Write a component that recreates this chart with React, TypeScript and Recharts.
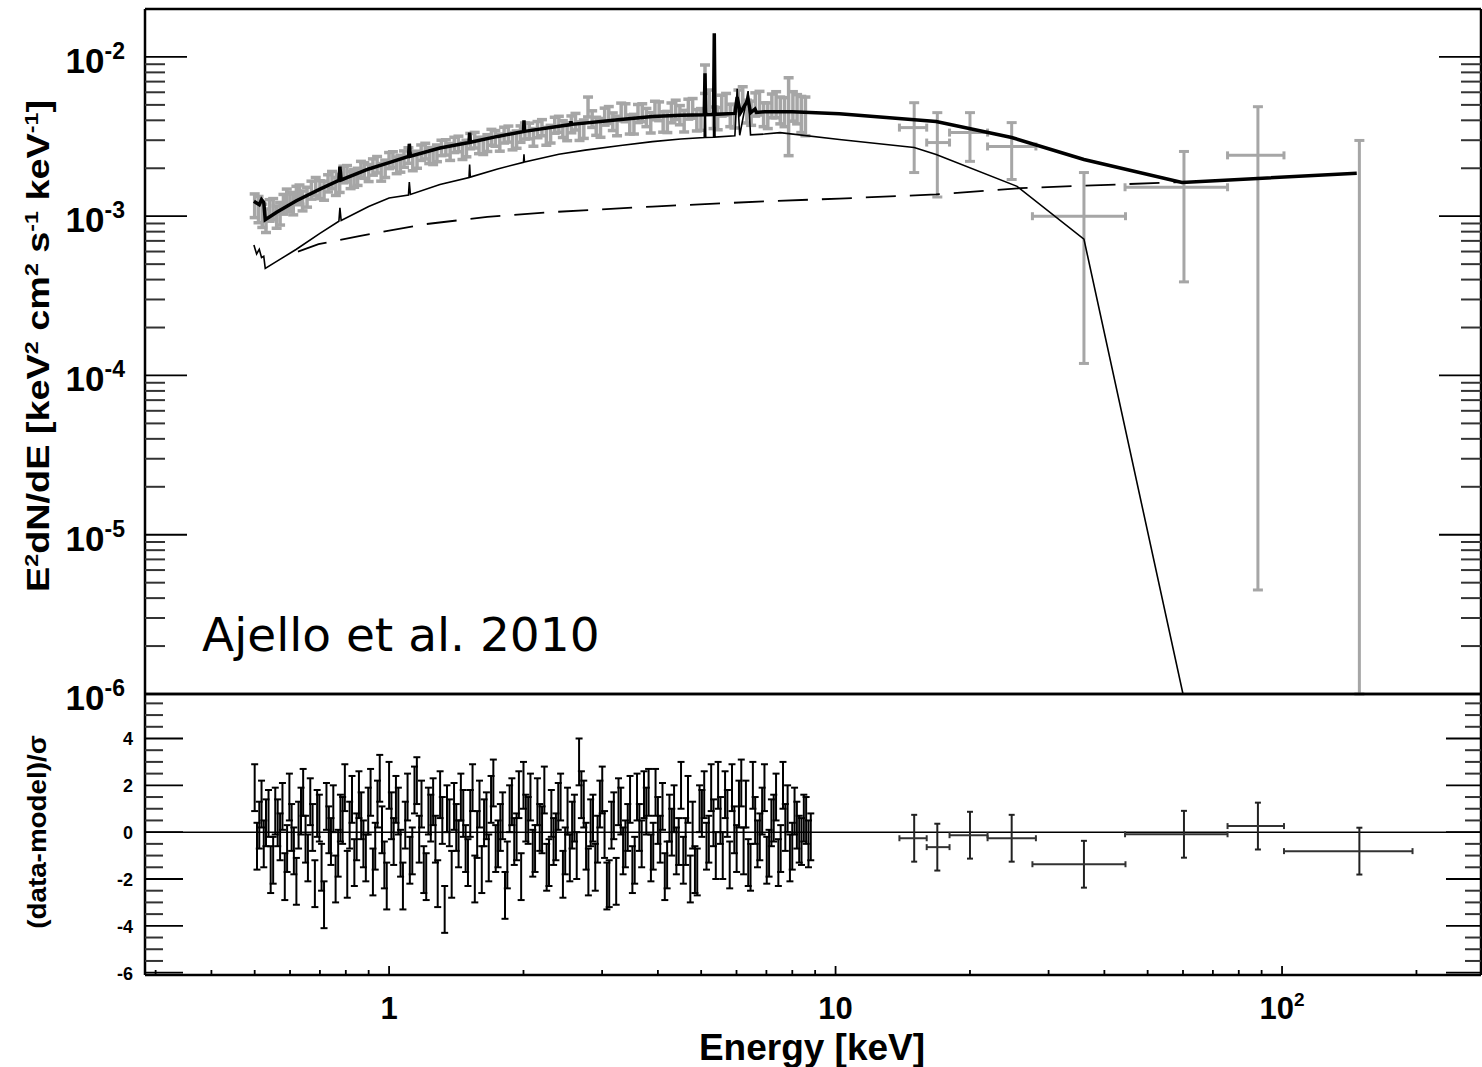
import React from 'react'
import { ComposedChart, Scatter, Line, XAxis, YAxis, ErrorBar, ReferenceLine } from 'recharts'

const FONT = '"Liberation Sans", Arial, Helvetica, sans-serif'
const GREY = '#a6a6a6'
const UNIT = 1e-3 // flux arrays below are in units of 1e-3 keV^2 cm^-2 s^-1 keV^-1

// ---- axes ----
const energyDomain = [0.284, 279]
const energyMajorTicks = [1, 10, 100]
const energyLabelBase = ['1', '10', '10']
const energyLabelSup = ['', '', '2']
const energyMinorTicks = [0.3, 0.4, 0.5, 0.6, 0.7, 0.8, 0.9, 2, 3, 4, 5, 6, 7, 8, 9, 20, 30, 40, 50, 60, 70, 80, 90, 200]

const fluxDomain = [1e-6, 2e-2]
const fluxMajorTicks = [1e-6, 1e-5, 1e-4, 1e-3, 1e-2]
const fluxExponents = ['-6', '-5', '-4', '-3', '-2']
const fluxMinorTicks = [
  2e-6, 3e-6, 4e-6, 5e-6, 6e-6, 7e-6, 8e-6, 9e-6,
  2e-5, 3e-5, 4e-5, 5e-5, 6e-5, 7e-5, 8e-5, 9e-5,
  2e-4, 3e-4, 4e-4, 5e-4, 6e-4, 7e-4, 8e-4, 9e-4,
  2e-3, 3e-3, 4e-3, 5e-3, 6e-3, 7e-3, 8e-3, 9e-3,
]

const residualDomain = [-6.1, 5.9]
const residualMajorTicks = [-6, -4, -2, 0, 2, 4]
const residualMajorLabels = ['-6', '-4', '-2', '0', '2', '4']
const residualMinorTicks = [-5.5, -5, -4.5, -3.5, -3, -2.5, -1.5, -1, -0.5, 0.5, 1, 1.5, 2.5, 3, 3.5, 4.5, 5, 5.5]

// ---- XMM spectrum (grey points, top panel) ----
const xmmEnergy = [
  0.5, 0.52, 0.54, 0.56, 0.58, 0.6, 0.62, 0.64, 0.67, 0.7,
  0.73, 0.76, 0.79, 0.82, 0.85, 0.88, 0.92, 0.96, 1.0, 1.04,
  1.08, 1.13, 1.18, 1.23, 1.28, 1.34, 1.4, 1.46, 1.52, 1.59,
  1.66, 1.73, 1.81, 1.89, 1.97, 2.06, 2.15, 2.25, 2.35, 2.45,
  2.56, 2.67, 2.79, 2.91, 3.04, 3.17, 3.31, 3.46, 3.61, 3.77,
  3.94, 4.11, 4.29, 4.48, 4.68, 4.89, 5.1, 5.33, 5.56, 5.81,
  6.06, 6.33, 6.61, 6.9, 7.2, 7.52, 7.85, 8.2, 8.56,
]
const xmmFlux = [
  1.18, 1.02, 1.1, 1.0, 1.2, 1.24, 1.36, 1.26, 1.47, 1.48,
  1.62, 1.55, 1.84, 1.7, 1.78, 1.95, 2.05, 1.9, 2.25, 2.1,
  2.3, 2.2, 2.52, 2.42, 2.5, 2.72, 2.82, 2.58, 2.98, 2.8,
  2.9, 3.1, 3.25, 2.98, 3.3, 3.45, 3.52, 3.2, 3.75, 3.55,
  3.8, 3.45, 4.9, 3.7, 4.25, 3.95, 4.55, 3.8, 4.45, 4.2,
  4.65, 3.95, 4.5, 4.35, 4.75, 4.05, 7.4, 4.2, 5.0, 4.35,
  5.4, 4.6, 5.1, 4.4, 5.0, 4.7, 4.9, 4.8, 4.4,
]
const xmmErr = [
  0.2, 0.17, 0.17, 0.16, 0.17, 0.17, 0.18, 0.18, 0.19, 0.19,
  0.2, 0.2, 0.22, 0.21, 0.22, 0.22, 0.24, 0.24, 0.26, 0.25,
  0.27, 0.27, 0.28, 0.28, 0.3, 0.3, 0.31, 0.31, 0.33, 0.33,
  0.35, 0.35, 0.37, 0.37, 0.39, 0.39, 0.41, 0.41, 0.43, 0.43,
  0.46, 0.46, 0.7, 0.48, 0.52, 0.5, 0.58, 0.52, 0.58, 0.55,
  0.62, 0.58, 0.64, 0.6, 0.68, 0.62, 1.5, 0.65, 0.75, 0.7,
  0.8, 0.75, 0.85, 0.75, 0.85, 0.9, 2.5, 1.0, 1.2,
]
// second interleaved set of XMM bins
const xmmEnergyB = [
  0.51, 0.53, 0.55, 0.57, 0.59, 0.61, 0.63, 0.655, 0.685, 0.715,
  0.745, 0.775, 0.805, 0.835, 0.865, 0.9, 0.94, 0.98, 1.02, 1.06,
  1.105, 1.155, 1.205, 1.255, 1.31, 1.37, 1.43, 1.49, 1.555, 1.625,
  1.695, 1.77, 1.85, 1.93, 2.015, 2.105, 2.2, 2.3, 2.4, 2.505,
  2.615, 2.73, 2.85, 2.975, 3.105, 3.24, 3.385, 3.535, 3.69, 3.855,
  4.025, 4.2, 4.385, 4.58, 4.785, 4.995, 5.215, 5.445, 5.685, 5.935,
  6.195, 6.47, 6.755, 7.05, 7.36, 7.685, 8.025, 8.38,
]
const xmmFluxB = [
  1.12, 0.95, 1.12, 1.05, 1.3, 1.2, 1.38, 1.33, 1.55, 1.46,
  1.7, 1.62, 1.86, 1.74, 1.98, 1.88, 2.12, 2.0, 2.28, 2.15,
  2.42, 2.28, 2.58, 2.4, 2.7, 2.55, 2.86, 2.68, 3.02, 2.78,
  3.15, 2.92, 3.3, 3.05, 3.45, 3.15, 3.62, 3.3, 3.8, 3.42,
  3.95, 3.55, 4.1, 3.62, 4.35, 3.72, 4.5, 3.82, 4.5, 3.9,
  4.6, 3.95, 4.7, 4.0, 4.8, 4.1, 5.3, 4.15, 5.1, 4.3,
  5.6, 4.5, 5.2, 4.35, 5.1, 4.6, 5.0, 4.5,
]
const xmmErrB = [
  0.21, 0.16, 0.17, 0.17, 0.18, 0.18, 0.19, 0.19, 0.2, 0.2,
  0.21, 0.21, 0.22, 0.22, 0.23, 0.23, 0.25, 0.25, 0.26, 0.26,
  0.27, 0.28, 0.29, 0.29, 0.3, 0.31, 0.32, 0.32, 0.34, 0.34,
  0.36, 0.36, 0.38, 0.38, 0.4, 0.4, 0.42, 0.42, 0.44, 0.44,
  0.47, 0.47, 0.49, 0.49, 0.53, 0.52, 0.58, 0.54, 0.58, 0.57,
  0.62, 0.6, 0.65, 0.62, 0.68, 0.64, 0.9, 0.66, 0.8, 0.72,
  0.9, 0.78, 0.88, 0.8, 0.95, 0.95, 1.05, 1.15,
]

// ---- BAT spectrum (grey crosses, top panel); the last bin only shows its upper bar ----
const batEnergy = [15.0, 16.9, 20.0, 24.8, 36.0, 60.3, 88.3, 149]
const batEnergyLo = [13.9, 16.0, 18.0, 21.9, 27.6, 44.5, 75.5, 101]
const batEnergyHi = [16.0, 18.0, 21.9, 28.1, 44.6, 75.5, 101, 196]
const batFlux = [3.6, 2.9, 3.35, 2.74, 1.0, 1.52, 2.41, 0.001]
const batFluxLo = [1.88, 1.32, 2.21, 1.7, 0.119, 0.387, 0.0045, 0.001]
const batFluxHi = [5.16, 4.47, 4.47, 3.87, 1.88, 2.55, 4.87, 2.99]

// ---- model curves ----
const totalEnergy = [
  0.498, 0.512, 0.518, 0.524, 0.528, 0.56, 0.62, 0.7, 0.772, 0.776, 0.781,
  0.9, 1.0, 1.105, 1.11, 1.116, 1.3, 1.51, 1.515, 1.52, 1.75, 2.0, 2.005, 2.01,
  2.4, 2.55, 2.555, 2.56, 3.3, 3.89, 4.5, 5.08, 5.1, 5.12, 5.33, 5.35, 5.37,
  5.95, 6.02, 6.12, 6.37, 6.45, 6.6, 6.65, 6.93, 8.0, 10.2, 16.8, 24.8, 36.0, 59.7, 147,
]
const totalFlux = [
  1.24, 1.18, 1.27, 1.22, 0.95, 1.06, 1.25, 1.48, 1.68, 2.05, 1.69,
  1.98, 2.17, 2.37, 2.85, 2.38, 2.68, 2.9, 3.35, 2.91, 3.17, 3.4, 4.0, 3.41,
  3.67, 3.76, 3.95, 3.77, 4.05, 4.22, 4.3, 4.34, 7.9, 4.34, 4.35, 14.1, 4.36,
  4.42, 5.6, 4.45, 5.4, 4.46, 4.7, 4.48, 4.53, 4.52, 4.4, 3.93, 3.12, 2.27, 1.63, 1.86,
]
const reflEnergy = [
  0.498, 0.505, 0.512, 0.518, 0.524, 0.528, 0.56, 0.62, 0.7, 0.772, 0.776, 0.781,
  0.9, 1.0, 1.105, 1.11, 1.116, 1.3, 1.51, 1.515, 1.52, 1.75, 2.0, 2.005, 2.01,
  2.4, 2.75, 3.3, 3.89, 4.5, 5.08, 5.1, 5.12, 5.33, 5.35, 5.37, 5.95, 6.02, 6.1,
  6.37, 6.45, 6.93, 7.51, 10.2, 15.0, 16.8, 25.5, 36.0, 60.0,
]
const reflFlux = [
  0.66, 0.58, 0.62, 0.55, 0.56, 0.47, 0.52, 0.62, 0.78, 0.93, 1.13, 0.94,
  1.15, 1.3, 1.36, 1.64, 1.37, 1.58, 1.75, 2.11, 1.76, 1.98, 2.18, 2.45, 2.19,
  2.45, 2.6, 2.78, 2.94, 3.05, 3.12, 7.5, 3.12, 3.13, 13.5, 3.14, 3.2, 6.3, 3.22,
  6.1, 3.24, 3.28, 3.35, 3.03, 2.7, 2.44, 1.54, 0.718, 0.001,
]
const powerEnergy = [0.625, 0.695, 0.857, 1.2, 1.66, 2.3, 3.89, 6.93, 10.2, 16.8, 26.0, 59.7]
const powerFlux = [0.6, 0.667, 0.75, 0.89, 0.99, 1.06, 1.15, 1.24, 1.29, 1.37, 1.5, 1.64]

// ---- residuals ----
const resEnergy = [
  0.5, 0.512, 0.524, 0.537, 0.55, 0.563, 0.577, 0.591, 0.605, 0.62,
  0.635, 0.65, 0.666, 0.682, 0.698, 0.715, 0.733, 0.75, 0.769, 0.787,
  0.806, 0.826, 0.846, 0.866, 0.887, 0.909, 0.931, 0.953, 0.976, 1.0,
  1.024, 1.049, 1.074, 1.1, 1.127, 1.154, 1.182, 1.211, 1.24, 1.27,
  1.301, 1.332, 1.365, 1.398, 1.431, 1.466, 1.502, 1.538, 1.575, 1.613,
  1.652, 1.692, 1.733, 1.775, 1.818, 1.862, 1.907, 1.953, 2.0, 2.049,
  2.098, 2.149, 2.201, 2.254, 2.309, 2.364, 2.422, 2.48, 2.54, 2.601,
  2.664, 2.729, 2.795, 2.862, 2.931, 3.002, 3.075, 3.149, 3.226, 3.304,
  3.383, 3.465, 3.549, 3.635, 3.723, 3.813, 3.905, 4.0, 4.096, 4.195,
  4.297, 4.4, 4.507, 4.616, 4.728, 4.842, 4.959, 5.079, 5.202, 5.328,
  5.457, 5.589, 5.724, 5.862, 6.004, 6.149, 6.298, 6.45, 6.606, 6.766,
  6.93, 7.097, 7.269, 7.445, 7.625, 7.809, 7.998, 8.191, 8.389, 8.592, 8.8,
]
const resValue = [
  1.9, 0.3, -0.5, 0.8, -1.2, 0.4, 1.1, -0.7, 0.2, -2.1,
  0.9, -0.3, 1.3, -2.2, 0.6, -3.1, 0.1, 1.0, -0.9, 0.5,
  -1.8, 1.4, -0.2, 0.7, -1.1, 1.7, -0.6, 2.3, -1.4, 2.0,
  -0.4, 0.9, -2.3, 1.5, -0.8, 2.2, 1.2, -1.9, 0.6, -0.3,
  1.6, -3.3, 0.4, 1.1, -0.5, 0.8, -1.3, 1.9, -0.1, -1.6,
  0.7, 1.4, -0.7, 0.2, -2.7, 1.0, -0.4, 1.6, 2.0, 0.5,
  -0.9, 1.3, 0.1, -1.5, 0.8, -0.2, 1.5, -0.8, -1.1, 0.6,
  3.0, 1.2, -1.7, 0.6, -0.3, 1.8, -2.3, 0.3, -2.1, 0.9,
  -0.5, 1.4, -1.2, 0.2, 1.6, 1.7, -0.6, 0.5, 1.1, -1.4,
  0.0, -0.8, 2.0, -0.4, -2.0, -1.6, 1.0, 1.6, -0.3, 0.4,
  2.0, -1.0, 0.8, 1.9, -0.7, 2.1, 1.2, -1.5, 0.5, -0.2,
  1.9, -0.9, 0.6, -1.3, 2.0, 1.0, -0.6, 0.3, -0.4, 0.5, -0.2,
]
const resEnergyB = [
  0.506, 0.518, 0.53, 0.543, 0.556, 0.57, 0.584, 0.598, 0.612, 0.627,
  0.642, 0.658, 0.674, 0.69, 0.706, 0.724, 0.741, 0.759, 0.778, 0.796,
  0.816, 0.836, 0.856, 0.876, 0.898, 0.92, 0.942, 0.964, 0.988, 1.012,
  1.036, 1.061, 1.087, 1.113, 1.14, 1.168, 1.196, 1.225, 1.255, 1.285,
  1.316, 1.348, 1.381, 1.414, 1.448, 1.484, 1.52, 1.556, 1.594, 1.632,
  1.672, 1.712, 1.754, 1.796, 1.84, 1.884, 1.93, 1.976, 2.024, 2.073,
  2.123, 2.175, 2.227, 2.281, 2.336, 2.393, 2.451, 2.51, 2.57, 2.632,
  2.696, 2.762, 2.828, 2.896, 2.966, 3.038, 3.112, 3.187, 3.265, 3.343,
  3.424, 3.507, 3.592, 3.679, 3.768, 3.859, 3.952, 4.048, 4.145, 4.246,
  4.348, 4.453, 4.561, 4.672, 4.785, 4.9, 5.019, 5.14, 5.265, 5.392,
  5.523, 5.656, 5.793, 5.933, 6.076, 6.223, 6.374, 6.528, 6.686, 6.848,
  7.013, 7.183, 7.357, 7.535, 7.717, 7.903, 8.094, 8.29, 8.49, 8.696,
]
const resValueB = [
  -0.6, 1.2, 0.4, -1.6, 0.9, -0.2, -1.9, 1.5, -0.8, 0.3,
  1.7, -1.1, 0.2, 0.8, -1.5, 1.1, -0.4, -2.0, 0.6, 1.9,
  0.3, -1.3, 1.6, -0.5, 0.9, -1.7, 1.2, 0.1, -2.3, 0.7,
  1.4, -0.9, 0.3, -1.2, 1.8, -0.3, -1.6, 0.9, 1.3, -2.2,
  0.5, 1.0, -1.8, 0.2, 1.5, -0.7, 0.8, -2.0, 1.2, 0.4,
  -1.1, 2.1, -0.5, 0.7, -1.4, 1.3, -0.2, -1.9, 0.6, 1.5,
  -0.7, 0.2, 1.8, -1.3, -0.4, 1.1, -1.8, 0.9, 0.3, -1.0,
  1.6, -0.6, 0.4, -1.5, 1.2, -0.1, -2.2, 0.7, 1.3, -0.8,
  0.2, -1.6, 1.5, -0.5, 0.9, -1.1, 1.7, -0.3, -1.9, 0.6,
  1.0, -0.4, -1.2, 1.4, 0.3, -1.7, 0.8, -0.6, 1.9, -1.0,
  0.5, 1.6, -1.4, 0.1, 1.2, -0.8, -1.3, 2.0, -0.5, 0.9,
  -1.2, 0.4, 1.5, -0.7, 0.2, -1.1, 0.9, -0.3, 0.6, -0.5,
]
const batResidual = [-0.26, -0.64, -0.13, -0.26, -1.37, -0.09, 0.26, -0.81]

// tables for recharts
const xmmTable = [
  ...xmmEnergy.map((e, i) => ({ e, f: xmmFlux[i] * UNIT, err: xmmErr[i] * UNIT })),
  ...xmmEnergyB.map((e, i) => ({ e, f: xmmFluxB[i] * UNIT, err: xmmErrB[i] * UNIT })),
]
const batRows = batEnergy.map((e, i) => ({
  e,
  f: batFlux[i] * UNIT,
  fErr: [(batFlux[i] - batFluxLo[i]) * UNIT, (batFluxHi[i] - batFlux[i]) * UNIT],
  eErr: [e - batEnergyLo[i], batEnergyHi[i] - e],
}))
const batTable = batRows.slice(0, 7)
const batLimitTable = batRows.slice(7)
const totalTable = totalEnergy.map((e, i) => ({ e, f: totalFlux[i] * UNIT }))
const reflTable = reflEnergy.map((e, i) => ({ e, f: reflFlux[i] * UNIT }))
const powerTable = powerEnergy.map((e, i) => ({ e, f: powerFlux[i] * UNIT }))
const resTable = [
  ...resEnergy.map((e, i) => ({ e, r: resValue[i], err: 1 })),
  ...resEnergyB.map((e, i) => ({ e, r: resValueB[i], err: 1 })),
]
const batResTable = batEnergy.map((e, i) => ({
  e,
  r: batResidual[i],
  err: 1,
  eErr: [e - batEnergyLo[i], batEnergyHi[i] - e],
}))

const near = (a: number, b: number) => Math.abs(a - b) <= Math.abs(b) * 1e-6 + 1e-12
const Empty = () => <g />

function EnergyTick({ x, y, payload, kind }: any) {
  const i = energyMajorTicks.findIndex(t => near(payload.value, t))
  const major = i >= 0
  if (kind === 'top') {
    return <line x1={x} x2={x} y1={y} y2={y + (major ? 15 : 8)} stroke="#000" strokeWidth={1.8} />
  }
  if (kind === 'mid') {
    const h = major ? 12 : 7
    return <line x1={x} x2={x} y1={y - h} y2={y + h} stroke="#000" strokeWidth={1.8} />
  }
  return (
    <g>
      <line x1={x} x2={x} y1={y} y2={y - (major ? 9 : 5)} stroke="#000" strokeWidth={1.8} />
      {major && (
        <text x={x} y={y + 44} textAnchor="middle" fontFamily={FONT} fontWeight="bold" fontSize={31} fill="#000">
          {energyLabelBase[i]}
          {energyLabelSup[i] && (
            <tspan fontSize={19} dy={-13}>{energyLabelSup[i]}</tspan>
          )}
        </text>
      )}
    </g>
  )
}

function FluxTick({ x, y, payload, side }: any) {
  const i = fluxMajorTicks.findIndex(t => near(payload.value, t))
  const major = i >= 0
  const len = major ? 42 : 20
  const dir = side === 'left' ? 1 : -1
  return (
    <g>
      <line x1={x} x2={x + dir * len} y1={y} y2={y} stroke={major ? '#000' : '#333'} strokeWidth={major ? 1.8 : 2} />
      {major && side === 'left' && (
        <text x={x - 20} y={y + 16} textAnchor="end" fontFamily={FONT} fontWeight="bold" fontSize={35} fill="#000">
          10<tspan fontSize={23} dy={-14}>{fluxExponents[i]}</tspan>
        </text>
      )}
    </g>
  )
}

function ResidualTick({ x, y, payload, side }: any) {
  const i = residualMajorTicks.findIndex(t => near(payload.value, t))
  const major = i >= 0
  const len = side === 'left' ? (major ? 38 : 18) : major ? 35 : 16
  const dir = side === 'left' ? 1 : -1
  return (
    <g>
      <line x1={x} x2={x + dir * len} y1={y} y2={y} stroke={major ? '#000' : '#333'} strokeWidth={major ? 1.8 : 2} />
      {major && side === 'left' && (
        <text x={x - 12} y={y + 7} textAnchor="end" fontFamily={FONT} fontWeight="bold" fontSize={18} fill="#000">
          {residualMajorLabels[i]}
        </text>
      )}
    </g>
  )
}

const frame = { stroke: '#000', strokeWidth: 2.5 }
const energyTicks = [...energyMinorTicks, ...energyMajorTicks].sort((a, b) => a - b)
const fluxTicks = [...fluxMinorTicks, ...fluxMajorTicks].sort((a, b) => a - b)
const residualTicks = [...residualMinorTicks, ...residualMajorTicks].sort((a, b) => a - b)

export default function App() {
  return (
    <div style={{ position: 'absolute', left: 0, top: 0, width: 1482, height: 1067, background: '#fff', overflow: 'hidden' }}>
      {/* spectrum panel: plot area x 145..1481, y 9..694 */}
      <div style={{ position: 'absolute', left: 0, top: 0 }}>
        <ComposedChart width={1482} height={730} margin={{ top: 8, right: 0, bottom: 35, left: 144 }}>
          <XAxis dataKey="e" type="number" scale="log" domain={energyDomain} allowDataOverflow height={1}
            axisLine={frame} tick={false} tickLine={false} />
          <XAxis xAxisId="top" orientation="top" type="number" scale="log" domain={energyDomain} allowDataOverflow
            height={1} axisLine={frame} ticks={energyTicks} interval={0} tickLine={false} tickSize={0} tickMargin={0}
            tick={(p: any) => <EnergyTick {...p} kind="top" />} />
          <YAxis dataKey="f" type="number" scale="log" domain={fluxDomain} allowDataOverflow width={1}
            axisLine={frame} ticks={fluxTicks} interval={0} tickLine={false} tickSize={0} tickMargin={0}
            tick={(p: any) => <FluxTick {...p} side="left" />} />
          <YAxis yAxisId="right" orientation="right" type="number" scale="log" domain={fluxDomain} allowDataOverflow
            width={1} axisLine={frame} ticks={fluxTicks} interval={0} tickLine={false} tickSize={0} tickMargin={0}
            tick={(p: any) => <FluxTick {...p} side="right" />} />

          <Scatter data={xmmTable} shape={Empty} isAnimationActive={false}>
            <ErrorBar dataKey="err" direction="y" width={5} stroke={GREY} strokeWidth={3.5} isAnimationActive={false} />
          </Scatter>
          <Scatter data={batTable} shape={Empty} isAnimationActive={false}>
            <ErrorBar dataKey="fErr" direction="y" width={5} stroke={GREY} strokeWidth={3} isAnimationActive={false} />
            <ErrorBar dataKey="eErr" direction="x" width={4} stroke={GREY} strokeWidth={3} isAnimationActive={false} />
          </Scatter>
          <Scatter data={batLimitTable} shape={Empty} isAnimationActive={false}>
            <ErrorBar dataKey="fErr" direction="y" width={5} stroke={GREY} strokeWidth={3} isAnimationActive={false} />
          </Scatter>

          <Line data={powerTable} dataKey="f" type="linear" stroke="#000" strokeWidth={1.8} strokeDasharray="30 14"
            dot={false} isAnimationActive={false} />
          <Line data={reflTable} dataKey="f" type="linear" stroke="#000" strokeWidth={1.6} dot={false}
            isAnimationActive={false} />
          <Line data={totalTable} dataKey="f" type="linear" stroke="#000" strokeWidth={3.5} dot={false}
            isAnimationActive={false} />
        </ComposedChart>
      </div>

      {/* residual panel: plot area x 145..1481, y 694..975 */}
      <div style={{ position: 'absolute', left: 0, top: 676 }}>
        <ComposedChart width={1482} height={391} margin={{ top: 17, right: 0, bottom: 91, left: 144 }}>
          <XAxis dataKey="e" type="number" scale="log" domain={energyDomain} allowDataOverflow height={1}
            axisLine={frame} ticks={energyTicks} interval={0} tickLine={false} tickSize={0} tickMargin={0}
            tick={(p: any) => <EnergyTick {...p} kind="bottom" />} />
          <XAxis xAxisId="top" orientation="top" type="number" scale="log" domain={energyDomain} allowDataOverflow
            height={1} axisLine={frame} ticks={energyTicks} interval={0} tickLine={false} tickSize={0} tickMargin={0}
            tick={(p: any) => <EnergyTick {...p} kind="mid" />} />
          <YAxis dataKey="r" type="number" domain={residualDomain} allowDataOverflow width={1}
            axisLine={frame} ticks={residualTicks} interval={0} tickLine={false} tickSize={0} tickMargin={0}
            tick={(p: any) => <ResidualTick {...p} side="left" />} />
          <YAxis yAxisId="right" orientation="right" type="number" domain={residualDomain} allowDataOverflow width={1}
            axisLine={frame} ticks={residualTicks} interval={0} tickLine={false} tickSize={0} tickMargin={0}
            tick={(p: any) => <ResidualTick {...p} side="right" />} />

          <ReferenceLine y={0} stroke="#000" strokeWidth={1.5} />
          <Scatter data={resTable} shape={Empty} isAnimationActive={false}>
            <ErrorBar dataKey="err" direction="y" width={3.5} stroke="#000" strokeWidth={2} isAnimationActive={false} />
          </Scatter>
          <Scatter data={batResTable} shape={Empty} isAnimationActive={false}>
            <ErrorBar dataKey="err" direction="y" width={3} stroke="#222" strokeWidth={2} isAnimationActive={false} />
            <ErrorBar dataKey="eErr" direction="x" width={3} stroke="#333" strokeWidth={2} isAnimationActive={false} />
          </Scatter>
        </ComposedChart>
      </div>

      {/* titles and annotation */}
      <div style={{
        position: 'absolute', left: 38, top: 346, transform: 'translate(-50%, -50%) rotate(-90deg) scaleX(1.22)',
        whiteSpace: 'nowrap', fontFamily: FONT, fontWeight: 'bold', fontSize: 31, lineHeight: 1, color: '#000',
      }}>
        E<sup style={{ fontSize: 19 }}>2</sup>dN/dE [keV<sup style={{ fontSize: 19 }}>2</sup> cm<sup style={{ fontSize: 19 }}>2</sup> s<sup style={{ fontSize: 19 }}>-1</sup> keV<sup style={{ fontSize: 19 }}>-1</sup>]
      </div>
      <div style={{
        position: 'absolute', left: 37, top: 832, transform: 'translate(-50%, -50%) rotate(-90deg) scaleX(1.07)',
        whiteSpace: 'nowrap', fontFamily: FONT, fontWeight: 'bold', fontSize: 26, lineHeight: 1, color: '#000',
      }}>
        (data-model)/σ
      </div>
      <div style={{
        position: 'absolute', left: 812, top: 1047, transform: 'translate(-50%, -50%)',
        whiteSpace: 'nowrap', fontFamily: FONT, fontWeight: 'bold', fontSize: 37, lineHeight: 1, color: '#000',
      }}>
        Energy [keV]
      </div>
      <div style={{
        position: 'absolute', left: 202, top: 611, whiteSpace: 'nowrap', fontFamily: '"DejaVu Sans", sans-serif',
        fontSize: 47, lineHeight: '47px', color: '#000',
      }}>
        Ajello et al. 2010
      </div>
    </div>
  )
}
